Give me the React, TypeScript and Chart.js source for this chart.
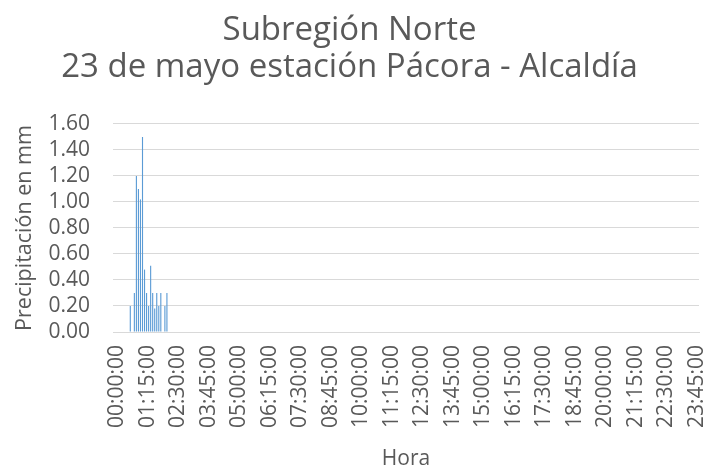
import React, { useEffect, useRef } from "react";
import { Chart, registerables } from "chart.js";

Chart.register(...registerables);

const titleLines = ["Subregión Norte", "23 de mayo estación Pácora - Alcaldía"];
const yAxisTitle = "Precipitación en mm";
const xAxisTitle = "Hora";

// Times (5-minute steps) with recorded rain, and their values in mm
const rainTimes = [
  "00:40:00", "00:50:00", "00:55:00", "01:00:00", "01:05:00", "01:10:00",
  "01:15:00", "01:20:00", "01:25:00", "01:30:00", "01:35:00", "01:40:00",
  "01:45:00", "01:50:00", "01:55:00", "02:05:00", "02:10:00",
];
const rainValues = [
  0.2, 0.3, 1.2, 1.1, 1.02, 1.5,
  0.48, 0.3, 0.2, 0.51, 0.3, 0.18,
  0.3, 0.2, 0.3, 0.2, 0.3,
];

const xTickLabels = [
  "00:00:00", "01:15:00", "02:30:00", "03:45:00", "05:00:00", "06:15:00",
  "07:30:00", "08:45:00", "10:00:00", "11:15:00", "12:30:00", "13:45:00",
  "15:00:00", "16:15:00", "17:30:00", "18:45:00", "20:00:00", "21:15:00",
  "22:30:00", "23:45:00",
];

const yTicks = [0, 0.2, 0.4, 0.6, 0.8, 1.0, 1.2, 1.4, 1.6];

const pad = (n: number) => String(n).padStart(2, "0");
const categories: string[] = [];
for (let m = 0; m < 24 * 60; m += 5) {
  categories.push(`${pad(Math.floor(m / 60))}:${pad(m % 60)}:00`);
}
const series = categories.map((c) => {
  const i = rainTimes.indexOf(c);
  return i >= 0 ? rainValues[i] : 0;
});

const TEXT = "#595959";
const GRID = "#d9d9d9";
const FONT = "'Open Sans', 'Liberation Sans', sans-serif";

export default function App() {
  const ref = useRef<HTMLCanvasElement | null>(null);

  useEffect(() => {
    document.body.style.margin = "0";
    if (!ref.current) return;
    const chart = new Chart(ref.current, {
      type: "bar",
      data: {
        labels: categories,
        datasets: [
          {
            data: series,
            backgroundColor: "#5B9BD5",
            borderWidth: 0,
            barPercentage: 0.55,
            categoryPercentage: 1,
          },
        ],
      },
      options: {
        responsive: false,
        animation: false,
        layout: { padding: { left: 0, right: 9, top: 0, bottom: 0 } },
        plugins: {
          legend: { display: false },
          tooltip: { enabled: false },
          title: {
            display: true,
            text: titleLines,
            color: TEXT,
            font: { family: FONT, size: 33, weight: "normal", lineHeight: 1.1212 },
            padding: { top: 12, bottom: 38 },
          },
        },
        scales: {
          x: {
            type: "category",
            grid: { display: false, drawTicks: false },
            border: { display: true, color: GRID, width: 1 },
            ticks: {
              autoSkip: false,
              minRotation: 90,
              maxRotation: 90,
              padding: 13,
              labelOffset: 3,
              color: TEXT,
              font: { family: FONT, size: 21 },
              callback: (_v: any, idx: number) => {
                const l = categories[idx];
                return xTickLabels.includes(l) ? l : null;
              },
            },
            title: {
              display: true,
              text: xAxisTitle,
              color: TEXT,
              font: { family: FONT, size: 21, lineHeight: 1 },
              padding: { top: 0, bottom: -2 },
            },
            afterFit: (s: any) => {
              s.height = 136;
              s.paddingLeft = 0;
              s.paddingRight = 0;
            },
          },
          y: {
            min: 0,
            max: 1.6,
            afterBuildTicks: (s: any) => {
              s.ticks = yTicks.map((v) => ({ value: v }));
            },
            grid: { color: GRID, lineWidth: 1, drawTicks: false },
            border: { display: false },
            ticks: {
              autoSkip: false,
              padding: 23,
              color: TEXT,
              font: { family: FONT, size: 21 },
              callback: (v: any) => Number(v).toFixed(2),
            },
            title: {
              display: true,
              text: yAxisTitle,
              color: TEXT,
              font: { family: FONT, size: 21.5, lineHeight: 1 },
              padding: { top: 14, bottom: 0 },
            },
            afterFit: (s: any) => {
              s.width = 113;
            },
          },
        },
      },
    });
    return () => chart.destroy();
  }, []);

  return (
    <div style={{ width: 708, height: 468 }}>
      <canvas ref={ref} width={708} height={468} />
    </div>
  );
}
